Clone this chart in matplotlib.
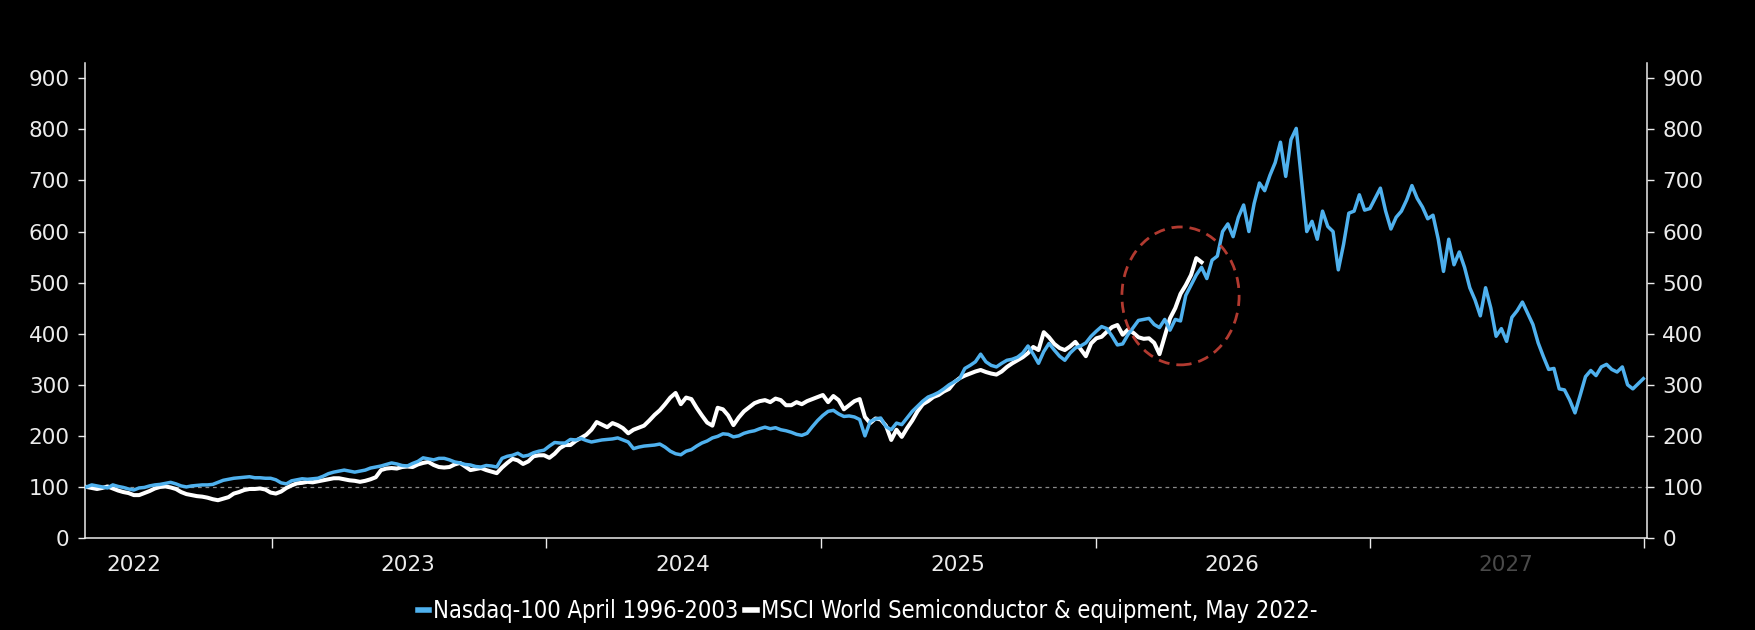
import matplotlib
matplotlib.use('Agg')
import matplotlib.pyplot as plt
import matplotlib.dates as mdates
from matplotlib.patches import Ellipse
from matplotlib.font_manager import FontProperties, findfont
import numpy as np
import pandas as pd

# weekly closes, rebased to 100
nasdaq_start = '2022-04-29'
nasdaq = [
    100, 104, 102, 100, 98, 104, 101, 99, 96, 94,
    98, 99, 102, 104, 105, 107, 109, 106, 102, 100,
    102, 103, 104, 104, 105, 109, 113, 115, 117, 118,
    119, 120, 118, 118, 117, 117, 114, 108, 106, 112,
    114, 116, 115, 116, 117, 121, 126, 129, 131, 133,
    131, 129, 131, 133, 137, 139, 141, 144, 147, 145,
    142, 141, 146, 150, 157, 155, 153, 156, 156, 153,
    149, 147, 144, 143, 140, 139, 142, 141, 139, 156,
    160, 162, 166, 160, 162, 167, 170, 172, 180, 187,
    186, 186, 193, 192, 195, 191, 188, 190, 192, 193,
    194, 196, 192, 188, 175, 178, 180, 181, 182, 184,
    178, 170, 165, 163, 170, 173, 180, 186, 190, 196,
    199, 204, 203, 198, 200, 205, 208, 210, 214, 217,
    214, 216, 212, 210, 207, 203, 201, 205, 218, 230,
    240, 248, 250, 243, 238, 239, 237, 232, 200, 228,
    233, 235, 218, 212, 225, 222, 235, 248, 258, 268,
    276, 280, 285, 292, 300, 306, 312, 332, 338, 345,
    360, 345, 338, 335, 342, 348, 350, 354, 362, 376,
    360, 342, 365, 381, 368, 356, 348, 362, 372, 376,
    382, 395, 405, 414, 410, 395, 378, 380, 398, 412,
    426, 428, 430, 418, 412, 428, 407, 428, 425, 475,
    495, 515, 530, 508, 544, 552, 600, 615, 590, 628,
    652, 600, 655, 695, 680, 710, 735, 775, 708, 780,
    802, 700, 600, 620, 585, 640, 610, 600, 525, 575,
    636, 640, 672, 642, 645, 665, 685, 640, 605, 628,
    640, 662, 690, 665, 648, 625, 632, 585, 522, 585,
    535, 560, 530, 490, 466, 435, 490, 450, 395, 410,
    385, 432, 445, 462, 440, 418, 382, 355, 330, 332,
    292, 290, 270, 245, 280, 316, 328, 318, 335, 340,
    330, 325, 335, 300, 292, 302, 312,
]

msci_start = '2022-04-29'
msci = [
    100, 98, 96, 98, 101, 97, 93, 90, 88, 84,
    84, 88, 92, 97, 100, 101, 99, 96, 90, 86,
    84, 82, 81, 79, 76, 74, 77, 80, 87, 90,
    94, 96, 96, 97, 95, 89, 87, 91, 98, 103,
    107, 108, 110, 109, 111, 113, 115, 117, 117, 115,
    113, 112, 110, 112, 115, 119, 133, 136, 137, 136,
    139, 140, 139, 144, 147, 149, 143, 139, 138, 139,
    144, 147, 140, 133, 135, 137, 133, 130, 127, 138,
    147, 155, 152, 145, 150, 160, 162, 162, 157, 165,
    176, 182, 182, 190, 196, 202, 212, 227, 222, 217,
    225, 221, 215, 205, 212, 216, 220, 230, 241, 250,
    262, 275, 284, 262, 275, 272, 255, 240, 226, 220,
    255, 252, 240, 221, 236, 248, 256, 264, 268, 270,
    266, 273, 270, 260, 260, 266, 262, 268, 272, 276,
    280, 266, 278, 270, 252, 260, 268, 272, 237, 225,
    234, 232, 220, 192, 212, 198, 215, 230, 248, 262,
    268, 276, 280, 287, 292, 305, 313, 318, 322, 326,
    329, 325, 322, 320, 326, 335, 342, 348, 354, 362,
    374, 368, 403, 393, 380, 372, 368, 375, 384, 370,
    356, 381, 391, 394, 404, 413, 417, 398, 408, 402,
    393, 390, 391, 382, 360, 395, 430, 450, 478, 495,
    515, 548, 540,
]

nasdaq_label = 'Nasdaq-100 April 1996-2003'
msci_label = 'MSCI World Semiconductor & equipment, May 2022-'
year_labels = ['2022', '2023', '2024', '2025', '2026', '2027']
y_ticks = [0, 100, 200, 300, 400, 500, 600, 700, 800, 900]

nasdaq_dates = pd.date_range(nasdaq_start, periods=len(nasdaq), freq='7D')
msci_dates = pd.date_range(msci_start, periods=len(msci), freq='7D')

blue = '#4fb1ee'
fg = '#ececec'

fig = plt.figure(figsize=(17.56, 6.3), dpi=100, facecolor='black')
ax = fig.add_axes([0.0484, 0.146, 0.8896, 0.754])
ax.set_facecolor('black')

ax.axhline(100, color='#8a8a8a', lw=0.9, ls=(0, (3, 3)), zorder=1)
ax.plot(msci_dates, msci, color='white', lw=2.9, label=msci_label, zorder=3)
ax.plot(nasdaq_dates, nasdaq, color=blue, lw=2.5, label=nasdaq_label, zorder=4)

# highlight of the recent spike
centre = mdates.date2num(pd.Timestamp('2026-04-24'))
ax.add_patch(Ellipse((centre, 474), width=156, height=270, fill=False,
                     edgecolor='#b23a30', lw=2.0, ls=(0, (4, 2.5)), zorder=5))

ax.set_xlim(pd.Timestamp('2022-04-27'), pd.Timestamp('2028-01-05'))
ax.set_ylim(0, 930)

ax.set_yticks(y_ticks)
ax.tick_params(axis='y', which='both', left=True, right=True,
               labelleft=True, labelright=True, colors=fg,
               labelsize=15.5, length=5, width=1, pad=6)

ax.xaxis.set_major_locator(mdates.YearLocator())
ax.xaxis.set_major_formatter(plt.NullFormatter())
ax.set_xticks([pd.Timestamp(y + '-07-01') for y in year_labels], minor=True)
ax.set_xticklabels(year_labels, minor=True)
ax.tick_params(axis='x', which='major', colors=fg, length=7, width=1)
ax.tick_params(axis='x', which='minor', colors=fg, length=0,
               labelsize=15.5, pad=12)
ax.get_xticklabels(minor=True)[-1].set_color('#4a4a4a')

for side in ['left', 'right', 'bottom']:
    ax.spines[side].set_color(fg)
    ax.spines[side].set_linewidth(1.1)
ax.spines['top'].set_visible(False)

# condensed face for the legend if it is there
cond = FontProperties(family='DejaVu Sans', stretch='condensed', size=17)
if 'Condensed' not in findfont(cond):
    cond = FontProperties(family='DejaVu Sans', size=14.5)

h, l = ax.get_legend_handles_labels()
leg = fig.legend(h[::-1], l[::-1], loc='center', bbox_to_anchor=(0.494, 0.03),
                 ncol=2, frameon=False, handlelength=0.5, handletextpad=0.15,
                 columnspacing=0.3, prop=cond)
for t in leg.get_texts():
    t.set_color('white')
for line in leg.get_lines():
    line.set_linewidth(4)

fig.savefig('out.png', dpi=100, facecolor='black')
